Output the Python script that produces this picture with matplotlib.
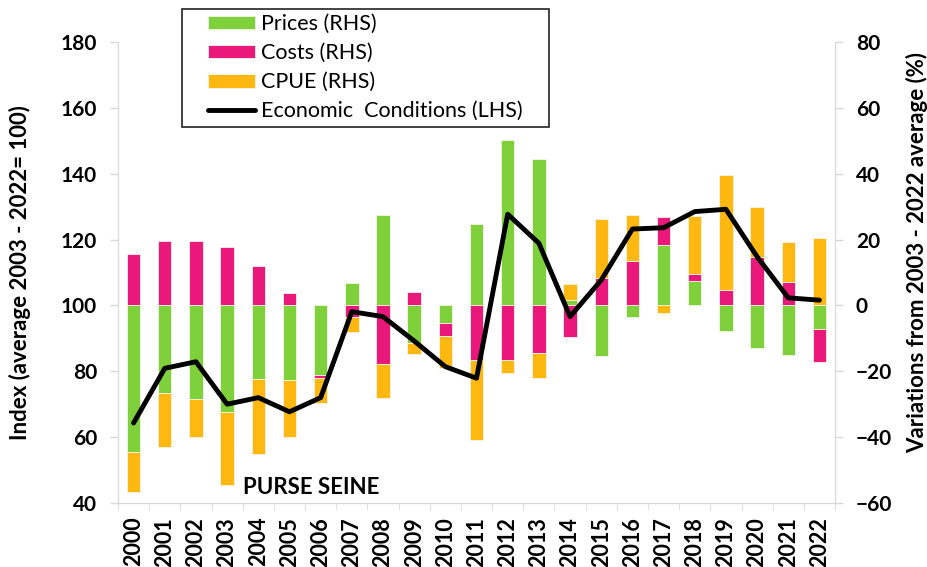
import numpy as np
import matplotlib.pyplot as plt
from matplotlib.patches import Rectangle

plt.rcParams['font.family'] = ['Lato', 'DejaVu Sans']

years = [str(y) for y in range(2000, 2023)]

# contributions, % (right axis)
prices = [-44.5, -26.6, -28.4, -32.3, -22.3, -22.7, -21.1, 6.7, 27.5, -11.5,
          -5.4, 24.6, 50.2, 44.5, 1.6, -15.4, -3.4, 18.3, 7.4, -7.7,
          -13.0, -15.1, -7.2]
costs = [15.6, 19.5, 19.7, 17.6, 11.9, 3.8, -1.0, -3.4, -17.8, 4.0,
         -3.9, -16.6, -16.6, -14.3, -9.7, 8.4, 13.6, 8.5, 2.0, 4.8,
         14.8, 7.0, -10.1]
cpue = [-12.2, -16.3, -11.6, -22.3, -22.7, -17.3, -7.6, -4.6, -10.2, -3.4,
        -9.8, -24.3, -3.8, -7.8, 4.8, 17.8, 13.9, -2.4, 17.7, 34.8,
        15.2, 12.3, 20.5]
# economic conditions index (left axis)
econ = [64.3, 80.9, 82.9, 70.0, 72.0, 67.7, 72.0, 98.1, 96.6, 89.2,
        81.4, 77.9, 127.7, 118.9, 96.6, 107.7, 123.2, 123.6, 128.5, 129.2,
        114.8, 102.3, 101.6]

green = '#7fd13b'
pink = '#e9187a'
orange = '#ffb80f'
grey = '#d9d9d9'

fig = plt.figure(figsize=(9.27, 5.67), dpi=100)
ax = fig.add_axes([0.1273, 0.1129, 0.7735, 0.813])
ax2 = ax.twinx()

x = np.arange(len(years))
pos = np.zeros(len(years))
neg = np.zeros(len(years))
for vals, col, lab in [(prices, green, 'Prices (RHS)'),
                       (costs, pink, 'Costs (RHS)'),
                       (cpue, orange, 'CPUE (RHS)')]:
    v = np.array(vals)
    base = np.where(v >= 0, pos, neg)
    ax2.bar(x, v, 0.43, bottom=base, color=col, edgecolor='#f4f4e8',
            linewidth=0.6, label=lab)
    pos = pos + np.where(v >= 0, v, 0)
    neg = neg + np.where(v < 0, v, 0)

ax.plot(x, econ, color='black', lw=3.5, solid_capstyle='round',
        solid_joinstyle='round', label='Economic  Conditions (LHS)')
ax.set_zorder(ax2.get_zorder() + 1)
ax.patch.set_visible(False)

ax.set_xlim(-0.5, len(years) - 0.5)
ax.set_ylim(40, 180)
ax.set_yticks(range(40, 181, 20))
ax2.set_ylim(-60, 80)
ax2.set_yticks(range(-60, 81, 20))
ax.set_xticks(x)
ax.set_xticklabels(years, rotation=90)

for a in (ax, ax2):
    for s in a.spines.values():
        s.set_color(grey)
    a.spines['top'].set_visible(False)
    a.tick_params(colors=grey, length=6, width=1, labelcolor='black',
                  labelsize=15, pad=9)
    for t in a.get_yticklabels():
        t.set_fontweight('bold')
ax.set_xticks(np.arange(-0.5, len(years)), minor=True)
ax.tick_params(axis='x', which='major', length=0, labelsize=15.5, pad=10)
ax.tick_params(axis='x', which='minor', length=5, color=grey)
for t in ax.get_xticklabels():
    t.set_fontweight('bold')

ax.set_ylabel('Index (average 2003 - 2022= 100)', fontsize=16,
              fontweight='bold')
ax.yaxis.set_label_coords(-0.121, 0.50)
ax2.set_ylabel('Variations from 2003 - 2022 average (%)', fontsize=16,
               fontweight='bold', rotation=90)
ax2.yaxis.set_label_coords(1.099, 0.544)

ax.text(0.175, 0.033, 'PURSE SEINE', transform=ax.transAxes, fontsize=16,
        fontweight='bold', va='center')

h2, l2 = ax2.get_legend_handles_labels()
h1, l1 = ax.get_legend_handles_labels()
leg = fig.legend(h2 + h1, l2 + l1, loc='upper left',
                 bbox_to_anchor=(0.2244, 0.975), fontsize=15.5, frameon=False,
                 handlelength=2.2, handleheight=0.6, labelspacing=0.42,
                 borderpad=0.0, handletextpad=0.25, borderaxespad=0)
fig.add_artist(Rectangle((0.1963, 0.776), 0.396, 0.208,
                         transform=fig.transFigure, fill=False,
                         edgecolor='#222222', linewidth=1.2))

fig.savefig('out.png', dpi=100)
